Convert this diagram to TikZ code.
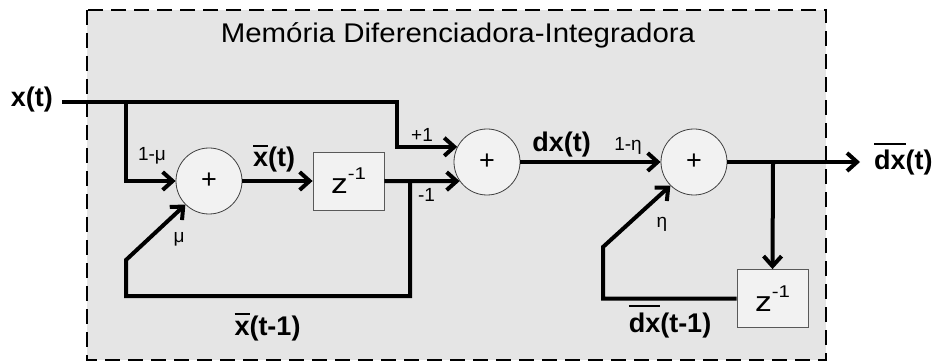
\documentclass[tikz,border=0pt]{standalone}
\usepackage{fontspec}
\setsansfont{Liberation Sans}
\newfontfamily\widesf[FakeStretch=1.2]{Liberation Sans}
\newfontfamily\titlesf[FakeStretch=1.09]{Liberation Sans}
\usetikzlibrary{arrows.meta}
\newcommand{\ovl}[1]{\leavevmode\vbox{\hrule height 1.8pt\kern 5.5pt\hbox{#1}}}
\newcommand{\zinv}{z\raisebox{14pt}{\fontsize{17}{19}\selectfont -1}}

\begin{document}
\begin{tikzpicture}[x=1pt, y=-1pt, font=\sffamily,
  sig/.style={font=\sffamily\fontsize{27}{31}\selectfont\bfseries, inner sep=0pt},
  gain/.style={font=\sffamily\fontsize{19}{22}\selectfont, inner sep=0pt, anchor=base},
  sumnode/.style={circle, draw=black!75, line width=0.8pt, fill=black!5, minimum size=66pt, inner sep=0pt, font=\sffamily\fontsize{27}{30}\selectfont},
  delay/.style={draw=black!65, line width=0.8pt, fill=black!5, minimum width=71pt, minimum height=58pt, inner sep=0pt, font=\widesf\fontsize{28}{32}\selectfont},
  wire/.style={line width=4pt, -{Straight Barb[length=10pt,width=18pt]}},
  feed/.style={line width=4pt}]
\useasboundingbox (0,0) rectangle (933,363);
\draw[fill=black!10, line width=2.5pt, dash pattern=on 15pt off 8pt] (87,10) rectangle (826,360);
\node[font=\titlesf\fontsize{27}{30}\selectfont, anchor=base] (title) at (458,43) {Memória Diferenciadora-Integradora};

\node[sumnode] (sum1) at (209,181) {+};
\node[delay] (z1) at (348.5,181) {\zinv};
\node[sumnode] (sum2) at (487,162) {+};
\node[sumnode] (sum3) at (694,162) {+};
\node[delay] (z2) at (772.5,298.5) {\zinv};

\node[sig, anchor=base east] (xin) at (53,107) {x(t)};
\node[sig, anchor=base] (xbar) at (274,167) {\ovl{x}(t)};
\node[sig, anchor=base] (xbarold) at (267.5,335) {\ovl{x}(t-1)};
\node[sig, anchor=base] (dx) at (561.5,152) {dx(t)};
\node[sig, anchor=base west] (dxout) at (874,170) {\ovl{dx}(t)};
\node[sig, anchor=base] (dxold) at (670,332) {\ovl{dx}(t-1)};

\foreach \nm/\x/\y/\lab in {
  gmu/152/161/{1-μ},
  gmub/179/243/{μ},
  gplus/422/142/{+1},
  gminus/426.5/202/{-1},
  geta/628/151/{1-η},
  getab/662/228/{η}
}{
  \node[gain] (\nm) at (\x,\y) {\lab};
}

\coordinate (in) at (62,102);
\coordinate (br1) at (126,102);
\coordinate (br2) at (397,102);
\coordinate (fb1) at (410,181);
\coordinate (lp1) at (126,296);
\coordinate (lp2) at (126,260);
\coordinate (fb2) at (773,162);
\coordinate (lp3) at (603,298.5);
\coordinate (lp4) at (603,247);
\coordinate (outp) at (860,162);

\draw[wire] (in) -- (br2) |- (sum2.153);
\draw[wire] (br1) |- (sum1.west);
\draw[wire] (sum1) -- (z1);
\draw[wire] (z1.east) -- (sum2.215);
\draw[wire] (fb1) |- (lp1) -- (lp2) -- (sum1.225);
\draw[wire] (sum2) -- (sum3);
\draw[wire] (sum3.east) -- (outp);
\draw[wire] (fb2) -- (z2.north);
\draw[wire] (z2.west) -- (lp3) -- (lp4) -- (sum3.225);
\end{tikzpicture}
\end{document}
